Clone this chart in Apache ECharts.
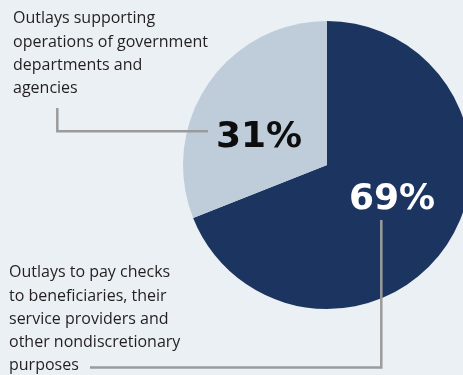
<!DOCTYPE html>
<html>
<head>
<meta charset="utf-8">
<script src="https://cdn.jsdelivr.net/npm/echarts@6/dist/echarts.min.js"></script>
<style>
  html, body { margin: 0; padding: 0; background: #ebf0f4; }
  #chart { width: 463px; height: 375px; }
</style>
</head>
<body>
<div id="chart"></div>
<script>
// Share of outlays by purpose (percent)
const categories = [
  'Outlays to pay checks to beneficiaries, their service providers and other nondiscretionary purposes',
  'Outlays supporting operations of government departments and agencies'
];
const shares = [69, 31];
const sliceColors = ['#1c3560', '#bfcddb'];
const valueLabelColors = ['#ffffff', '#0d0d0d'];
const valueLabelOffsets = [[3, -8], [-6, 15]];

const annotationTop = 'Outlays supporting\noperations of government\ndepartments and\nagencies';
const annotationBottom = 'Outlays to pay checks\nto beneficiaries, their\nservice providers and\nother nondiscretionary\npurposes';

const chart = echarts.init(document.getElementById('chart'), null, { renderer: 'canvas' });

const textStyleBase = {
  fontFamily: '"Open Sans", sans-serif',
  fontSize: 16,
  lineHeight: 23.3,
  fill: '#231f20'
};

const leaderStyle = { stroke: '#9b9b9b', lineWidth: 2.5, fill: null };

chart.setOption({
  backgroundColor: '#ebf0f4',
  animation: false,
  series: [{
    type: 'pie',
    center: [327, 165],
    radius: [0, 144],
    startAngle: 90,
    clockwise: true,
    silent: true,
    z: 2,
    itemStyle: { borderWidth: 0 },
    labelLine: { show: false },
    data: shares.map((v, i) => ({
      name: categories[i],
      value: v,
      itemStyle: { color: sliceColors[i] },
      label: {
        show: true,
        position: 'inside',
        formatter: '{c}%',
        color: valueLabelColors[i],
        fontFamily: '"DejaVu Sans", sans-serif',
        fontWeight: 'bold',
        fontSize: 36,
        offset: valueLabelOffsets[i]
      }
    }))
  }],
  graphic: [
    {
      type: 'text', left: 13, top: 7, z: 100,
      style: Object.assign({ text: annotationTop }, textStyleBase)
    },
    {
      type: 'text', left: 9, top: 261, z: 100,
      style: Object.assign({ text: annotationBottom }, textStyleBase)
    },
    {
      type: 'polyline', z: 100,
      shape: { points: [[57.3, 108], [57.3, 131.3], [208, 131.3]] },
      style: leaderStyle
    },
    {
      type: 'polyline', z: 100,
      shape: { points: [[381.3, 220], [381.3, 367.5], [90, 367.5]] },
      style: leaderStyle
    }
  ]
});
</script>
</body>
</html>
